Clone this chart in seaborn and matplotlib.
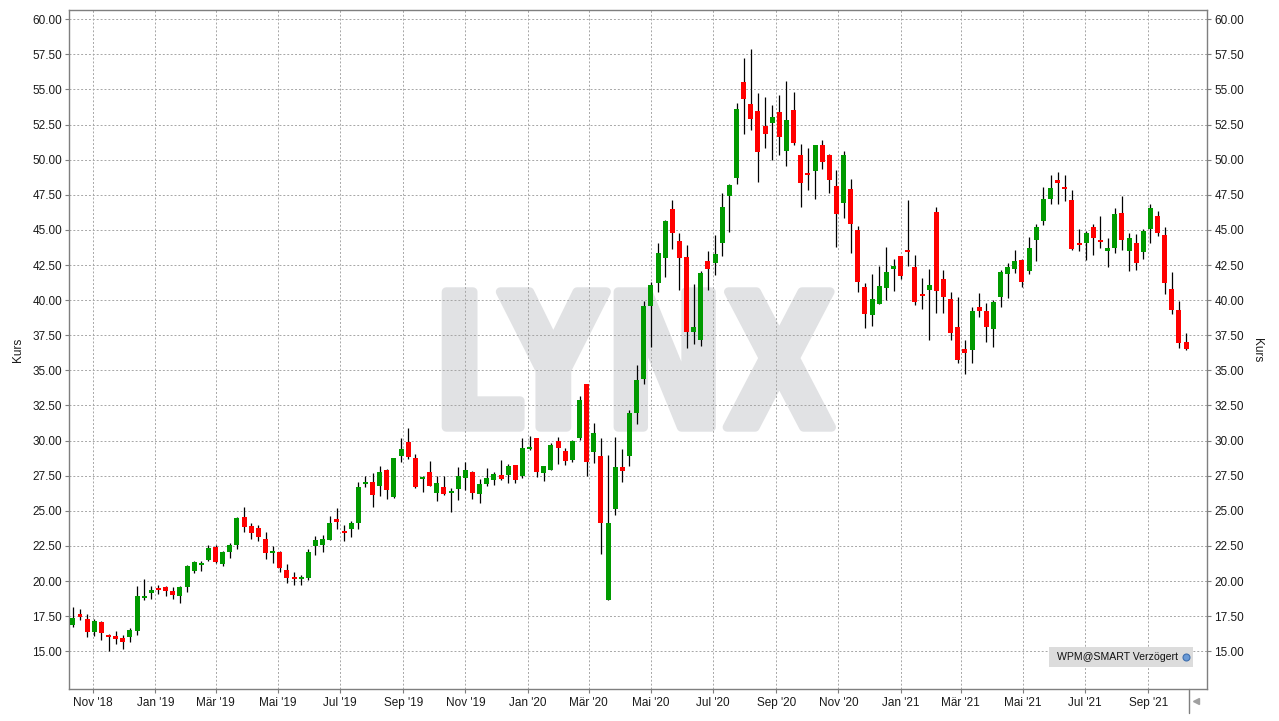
"""
WPM weekly candlestick chart (Oct 2018 - Oct 2021), LYNX style.
"""

import matplotlib
matplotlib.use("Agg")
import matplotlib.pyplot as plt
import matplotlib.dates as mdates
import matplotlib.ticker as mtick
from matplotlib.textpath import TextPath
from matplotlib.patches import PathPatch, Rectangle
from matplotlib.font_manager import FontProperties
from matplotlib.transforms import Affine2D
from matplotlib.lines import Line2D
import seaborn as sns
import numpy as np
import pandas as pd

# ── data (weekly candles) ─────────────────────────────────────────────────────
FIRST_WEEK = "2018-10-12"

OPEN = [
    16.87, 17.65, 17.30, 16.40, 17.09, 16.18, 16.09, 15.95, 16.02, 16.45,
    18.80, 19.15, 19.50, 19.57, 19.29, 18.93, 19.57, 20.71, 21.14, 21.50,
    22.42, 21.20, 22.06, 22.56, 24.55, 23.91, 23.77, 23.02, 21.97, 22.09,
    20.81, 20.31, 20.12, 20.19, 22.52, 22.59, 22.95, 24.44, 23.59, 23.73,
    24.16, 26.94, 27.08, 26.79, 27.93, 26.01, 28.93, 29.93, 28.79, 27.29,
    27.79, 26.29, 26.72, 26.29, 26.56, 27.35, 27.77, 26.21, 26.92, 27.20,
    27.56, 27.56, 28.27, 27.49, 29.41, 30.19, 27.70, 27.91, 29.98, 29.27,
    28.63, 30.19, 34.03, 29.19, 28.91, 18.67, 25.14, 28.13, 28.91, 31.97,
    34.40, 39.59, 41.22, 43.00, 46.49, 44.21, 43.08, 37.74, 37.17, 42.79,
    42.65, 44.07, 47.42, 48.70, 55.53, 53.96, 53.47, 52.40, 52.61, 53.40,
    50.62, 53.54, 50.33, 49.05, 49.20, 51.05, 50.32, 48.11, 46.90, 47.90,
    44.98, 40.93, 38.94, 39.72, 40.86, 42.21, 43.13, 43.56, 42.35, 40.43,
    40.71, 46.26, 41.50, 40.07, 38.08, 36.52, 36.45, 39.51, 39.22, 37.94,
    40.22, 41.85, 42.21, 42.84, 42.06, 44.27, 45.62, 47.18, 48.53, 48.03,
    47.11, 44.05, 44.05, 45.19, 44.27, 43.48, 43.70, 46.18, 43.48, 44.05,
    43.41, 45.05, 45.97, 44.62, 40.78, 39.29, 37.01,
]
HIGH = [
    18.15, 18.00, 17.65, 17.30, 17.16, 16.23, 16.45, 16.16, 16.66, 19.64,
    20.14, 19.64, 19.72, 19.64, 19.57, 19.64, 21.14, 21.42, 21.42, 22.56,
    22.56, 22.13, 22.70, 24.55, 25.26, 24.12, 23.98, 23.52, 22.52, 22.16,
    21.24, 20.67, 20.45, 22.30, 23.23, 23.30, 24.66, 25.23, 24.01, 24.30,
    27.08, 27.51, 27.72, 28.22, 28.00, 28.79, 30.21, 30.93, 29.07, 27.51,
    28.57, 27.51, 27.51, 26.65, 28.13, 28.48, 27.84, 27.27, 28.06, 27.77,
    28.63, 28.34, 28.27, 30.19, 30.33, 30.19, 28.20, 29.83, 30.26, 29.48,
    30.05, 33.18, 34.03, 31.26, 30.19, 28.98, 30.26, 29.41, 32.18, 35.40,
    39.94, 41.30, 44.07, 45.71, 47.13, 44.78, 43.93, 41.15, 42.08, 43.50,
    44.64, 47.63, 48.27, 54.04, 57.24, 57.88, 54.75, 54.46, 53.89, 54.60,
    55.60, 54.82, 51.12, 50.83, 51.05, 51.40, 50.40, 49.25, 50.60, 48.61,
    45.27, 41.21, 41.85, 42.42, 43.77, 42.92, 43.13, 47.12, 43.20, 41.57,
    42.21, 46.62, 42.14, 40.57, 40.22, 37.16, 39.51, 40.50, 39.79, 40.00,
    42.14, 42.64, 43.56, 42.91, 44.48, 45.40, 48.03, 48.89, 49.10, 48.89,
    47.82, 45.05, 44.91, 45.40, 45.97, 44.41, 46.54, 47.39, 44.76, 44.69,
    45.05, 46.82, 46.33, 45.19, 41.99, 39.93, 37.65,
]
LOW = [
    16.75, 17.23, 16.02, 16.09, 15.80, 15.02, 15.52, 15.17, 15.66, 16.16,
    18.65, 18.72, 19.08, 18.93, 18.72, 18.44, 19.22, 20.57, 20.71, 21.42,
    21.28, 21.07, 21.64, 22.27, 23.48, 22.99, 22.84, 21.54, 21.26, 20.62,
    19.83, 19.69, 19.69, 20.05, 21.88, 22.09, 22.95, 23.73, 22.87, 23.16,
    23.73, 26.72, 25.30, 26.08, 25.87, 25.94, 28.50, 28.72, 26.65, 26.37,
    26.79, 25.72, 26.15, 24.94, 25.78, 26.49, 25.85, 25.57, 26.78, 26.85,
    27.20, 26.99, 26.99, 27.35, 29.34, 27.42, 27.13, 27.91, 28.34, 28.27,
    28.48, 30.05, 27.49, 28.41, 21.94, 18.67, 24.72, 27.06, 28.20, 31.18,
    34.00, 36.67, 40.58, 41.65, 43.64, 40.73, 36.60, 36.88, 36.74, 40.73,
    41.79, 43.15, 44.85, 48.27, 51.83, 52.11, 48.41, 50.83, 49.98, 50.33,
    49.55, 51.05, 46.63, 47.84, 47.20, 49.34, 47.62, 43.77, 45.84, 43.35,
    40.57, 38.01, 38.15, 39.72, 40.00, 40.64, 41.50, 42.42, 39.65, 39.36,
    37.16, 39.08, 39.08, 37.16, 35.52, 34.74, 35.52, 38.79, 37.02, 36.66,
    39.51, 40.15, 41.92, 40.92, 41.85, 42.77, 45.33, 46.82, 46.82, 47.04,
    43.55, 43.48, 42.84, 43.20, 43.70, 42.35, 43.34, 43.55, 42.06, 42.13,
    42.91, 44.05, 44.55, 40.43, 39.00, 36.59, 36.45,
]
CLOSE = [
    17.39, 17.44, 16.37, 17.16, 16.30, 16.02, 15.88, 15.66, 16.52, 18.93,
    18.93, 19.36, 19.36, 19.29, 19.00, 19.57, 21.07, 21.35, 21.28, 22.35,
    21.35, 22.06, 22.56, 24.48, 23.84, 23.41, 23.13, 21.97, 22.16, 20.90,
    20.19, 20.12, 20.31, 22.09, 22.95, 23.02, 24.16, 24.23, 23.44, 24.16,
    26.72, 27.08, 26.15, 27.79, 26.51, 28.79, 29.43, 28.86, 26.72, 27.43,
    26.79, 27.00, 26.22, 26.44, 27.49, 27.91, 26.28, 26.92, 27.35, 27.63,
    27.27, 28.20, 27.20, 29.48, 29.55, 27.77, 28.20, 29.69, 29.48, 28.55,
    29.98, 32.89, 28.48, 30.55, 24.15, 24.15, 28.13, 27.84, 31.97, 34.31,
    39.59, 41.08, 43.36, 45.64, 44.78, 43.00, 37.74, 38.09, 41.94, 42.22,
    43.29, 46.63, 48.20, 53.61, 54.32, 52.90, 50.55, 51.83, 53.04, 51.62,
    52.83, 51.19, 48.34, 48.91, 51.05, 49.84, 48.54, 46.12, 50.32, 45.41,
    41.28, 39.00, 40.07, 41.00, 42.00, 42.42, 41.71, 43.42, 39.86, 40.29,
    41.07, 40.64, 40.22, 37.66, 35.74, 36.23, 39.22, 39.22, 38.08, 39.86,
    42.00, 42.35, 42.78, 41.28, 43.70, 45.19, 47.18, 47.96, 48.32, 47.89,
    43.63, 43.91, 44.76, 44.41, 44.12, 43.70, 46.11, 44.27, 44.41, 42.63,
    44.91, 46.54, 44.76, 41.21, 39.29, 36.94, 36.52,
]

MONTH_TICKS = [
    "2018-11-01", "2019-01-01", "2019-03-01", "2019-05-01", "2019-07-01",
    "2019-09-01", "2019-11-01", "2020-01-01", "2020-03-01", "2020-05-01",
    "2020-07-01", "2020-09-01", "2020-11-01", "2021-01-01", "2021-03-01",
    "2021-05-01", "2021-07-01", "2021-09-01",
]
MONTH_LABELS = [
    "Nov '18", "Jan '19", "Mär '19", "Mai '19", "Jul '19", "Sep '19",
    "Nov '19", "Jan '20", "Mär '20", "Mai '20", "Jul '20", "Sep '20",
    "Nov '20", "Jan '21", "Mär '21", "Mai '21", "Jul '21", "Sep '21",
]
PRICE_TICKS = [15.0, 17.5, 20.0, 22.5, 25.0, 27.5, 30.0, 32.5, 35.0, 37.5,
               40.0, 42.5, 45.0, 47.5, 50.0, 52.5, 55.0, 57.5, 60.0]

# ── style ─────────────────────────────────────────────────────────────────────
sns.set_theme(style="white")
plt.rcParams["font.family"] = ["Liberation Sans", "DejaVu Sans"]

UP_COLOR = "#009a00"
DOWN_COLOR = "#ff0000"
FRAME = "#7f7f7f"
WM_COLOR = "#e1e2e4"
W, H = 1279, 721

df = pd.DataFrame({
    "Date": pd.date_range(FIRST_WEEK, periods=len(OPEN), freq="7D"),
    "Open": OPEN, "High": HIGH, "Low": LOW, "Close": CLOSE,
})
df["x"] = mdates.date2num(df["Date"])
df["up"] = df["Close"] >= df["Open"]

fig = plt.figure(figsize=(W / 100, H / 100), dpi=100, facecolor="white")
ax = fig.add_axes([69 / W, (H - 689.3) / H, (1207.3 - 69) / W, (689.3 - 10) / H])
ax.set_facecolor("white")

# wicks + bodies
ax.vlines(df["x"], df["Low"], df["High"], color="black", lw=0.9, zorder=2)
body_lo = np.minimum(df["Open"], df["Close"])
body_h = np.maximum((df["Close"] - df["Open"]).abs(), 0.12)
ax.bar(df["x"], body_h, bottom=body_lo, width=4.9,
       color=np.where(df["up"], UP_COLOR, DOWN_COLOR), linewidth=0, zorder=3)

# axes
ax.set_xlim(mdates.date2num(pd.Timestamp("2018-10-08 05:00")),
            mdates.date2num(pd.Timestamp("2021-10-28 19:00")))
ax.set_ylim(12.29, 60.66)
ax.set_xticks(mdates.date2num(pd.to_datetime(MONTH_TICKS)))
ax.set_xticklabels(MONTH_LABELS)
ax.set_yticks(PRICE_TICKS)
ax.yaxis.set_major_formatter(mtick.FormatStrFormatter("%.2f"))

ax.set_axisbelow(True)
ax.grid(True, color="#a6a6a6", linestyle=(0, (2, 2)), linewidth=0.7)
for sp in ax.spines.values():
    sp.set_visible(True)
    sp.set_color(FRAME)
    sp.set_linewidth(1.0)

ax.tick_params(axis="y", which="both", left=True, right=True,
               labelleft=True, labelright=True, length=3, width=0.8,
               color=FRAME, pad=2, labelsize=8.5, labelcolor="#1a1a1a")
ax.tick_params(axis="x", bottom=True, length=3, width=0.8, color=FRAME,
               pad=2.5, labelsize=8.5, labelcolor="#1a1a1a")

fig.text(18 / W, 1 - 350 / H, "Kurs", rotation=90, ha="center", va="center",
         fontsize=8.5, color="#1a1a1a")
fig.text(1257 / W, 1 - 350 / H, "Kurs", rotation=270, ha="center", va="center",
         fontsize=8.5, color="#1a1a1a")

# LYNX watermark: bold glyphs, stroked with round joins to get chunky letters
STROKE = 9  # px
tp = TextPath((0, 0), "LYNX", size=100,
              prop=FontProperties(family="DejaVu Sans", weight="bold"))
ext = tp.get_extents()
x0, x1, y_top, y_bot = 441.7 + STROKE / 2, 836 - STROKE / 2, 287.3 + STROKE / 2, 431.7 - STROKE / 2
wm_trans = (Affine2D()
            .translate(-ext.x0, -ext.y0)
            .scale((x1 - x0) / ext.width, (y_bot - y_top) / ext.height)
            .translate(x0, H - y_bot)
            .scale(1 / W, 1 / H) + fig.transFigure)
ax.add_artist(PathPatch(tp, transform=wm_trans, facecolor=WM_COLOR,
                        edgecolor=WM_COLOR, linewidth=STROKE * 0.72,
                        joinstyle="round", capstyle="round",
                        zorder=0.2, clip_on=False))

# source box
fig.add_artist(Rectangle((1049 / W, (H - 667) / H), 144 / W, 20 / H,
                         transform=fig.transFigure, facecolor="#dcdcdc",
                         edgecolor="none", zorder=5))
fig.text(1057 / W, (H - 657) / H, "WPM@SMART Verzögert", ha="left",
         va="center", fontsize=7.6, color="#111111", zorder=6)
fig.add_artist(Line2D([1186 / W], [(H - 657) / H], marker="o", markersize=5,
                      color="#6a9ad6", markeredgecolor="#3f6fae",
                      markeredgewidth=0.8, transform=fig.transFigure, zorder=6))

# scroll handle bottom right
fig.add_artist(Line2D([1189.3 / W] * 2, [(H - 689) / H, (H - 713) / H],
                      color=FRAME, lw=1, transform=fig.transFigure))
fig.add_artist(Line2D([1196 / W], [(H - 701) / H], marker="<", markersize=4,
                      color="#a0a0a0", transform=fig.transFigure))

fig.savefig("out.png", dpi=100, facecolor="white")
